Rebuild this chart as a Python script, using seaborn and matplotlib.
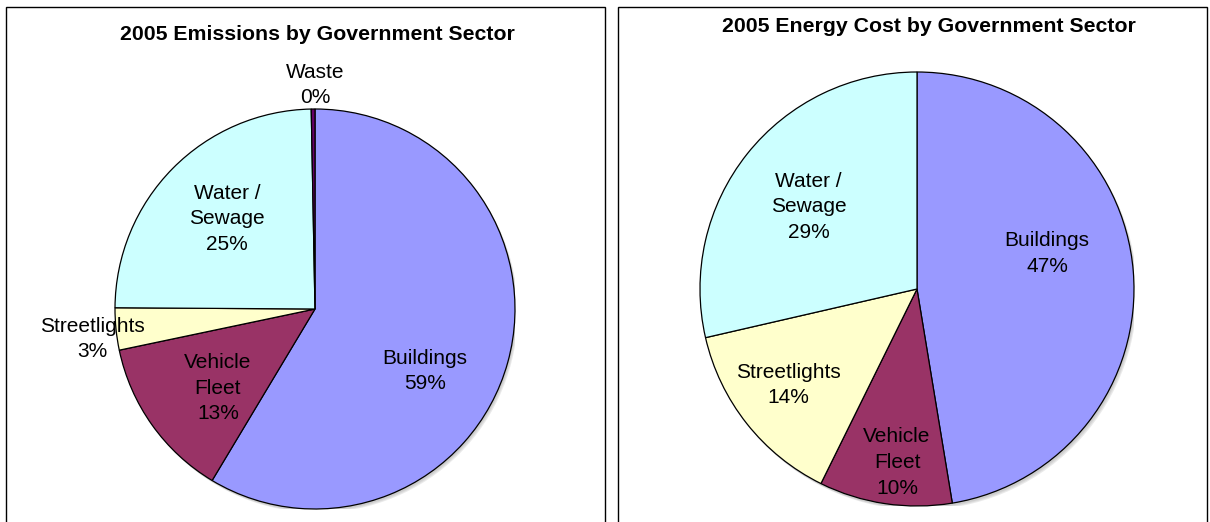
import matplotlib
matplotlib.use("Agg")
import matplotlib.pyplot as plt
from matplotlib.patches import Rectangle, Circle
import seaborn as sns

sns.set_theme(style="white")
plt.rcParams['font.family'] = ['Liberation Sans', 'DejaVu Sans']

# 2005 emissions share by government sector
emis_sectors = ["Buildings", "Vehicle\nFleet", "Streetlights", "Water /\nSewage", "Waste"]
emis_values = [58.6, 13.1, 3.4, 24.6, 0.3]

# 2005 energy cost share by government sector
cost_sectors = ["Buildings", "Vehicle\nFleet", "Streetlights", "Water /\nSewage"]
cost_values = [47.4, 9.9, 14.1, 28.6]

titles = ["2005 Emissions by Government Sector", "2005 Energy Cost by Government Sector"]

sector_colors = {
    "Buildings": "#9999FF",
    "Vehicle\nFleet": "#993366",
    "Streetlights": "#FFFFCC",
    "Water /\nSewage": "#CCFFFF",
    "Waste": "#660066",
}

W, H = 1210, 522
fig = plt.figure(figsize=(W / 100, H / 100), dpi=100)
fig.patch.set_facecolor("white")


def px_rect(x0, y0, x1, y1):
    """Pixel box (top-left origin) -> figure-fraction rect."""
    return [x0 / W, 1 - y1 / H, (x1 - x0) / W, (y1 - y0) / H]


def draw_pie(cx, cy, r, sectors, values, label_pos):
    ax = fig.add_axes(px_rect(cx - r, cy - r, cx + r, cy + r))
    # soft drop shadow
    for k, a in enumerate([0.10, 0.10, 0.12]):
        ax.add_patch(Circle((0.006 + 0.004 * k, -0.010 - 0.004 * k), 1.0,
                            color="#555555", alpha=a, lw=0, zorder=0))
    wedges, _ = ax.pie(values, colors=[sector_colors[s] for s in sectors],
                       startangle=90, counterclock=False, radius=1.0,
                       wedgeprops=dict(edgecolor="black", linewidth=0.9))
    for w in wedges:
        w.set_zorder(2)
    total = sum(values)
    for s, v in zip(sectors, values):
        x, y = label_pos[s]
        ax.text(x, y, f"{s}\n{100 * v / total:.0f}%", ha="center", va="center",
                fontsize=15, color="black", linespacing=1.45, zorder=3, clip_on=False)
    ax.set_xlim(-1, 1)
    ax.set_ylim(-1, 1)
    ax.set_aspect("equal")
    ax.axis("off")
    return ax


emis_label_pos = {
    "Buildings": (0.55, -0.31),
    "Vehicle\nFleet": (-0.485, -0.395),
    "Streetlights": (-1.115, -0.15),
    "Water /\nSewage": (-0.44, 0.45),
    "Waste": (0.0, 1.12),
}
cost_label_pos = {
    "Buildings": (0.60, 0.164),
    "Vehicle\nFleet": (-0.092, -0.80),
    "Streetlights": (-0.594, -0.442),
    "Water /\nSewage": (-0.50, 0.378),
}

draw_pie(315, 309, 200, emis_sectors, emis_values, emis_label_pos)
draw_pie(917, 289, 217, cost_sectors, cost_values, cost_label_pos)

# panel frames
for x0, x1 in [(6, 605), (618, 1207)]:
    fig.add_artist(Rectangle((x0 / W, 1 - 540 / H), (x1 - x0) / W, (540 - 7) / H,
                             transform=fig.transFigure, fill=False,
                             edgecolor="black", linewidth=1.0))

fig.text(317 / W, 1 - 39.5 / H, titles[0], ha="center", va="baseline",
         fontsize=15.3, fontweight="bold", color="black")
fig.text(929 / W, 1 - 31.5 / H, titles[1], ha="center", va="baseline",
         fontsize=15.3, fontweight="bold", color="black")

fig.savefig("out.png", dpi=100, facecolor="white")
